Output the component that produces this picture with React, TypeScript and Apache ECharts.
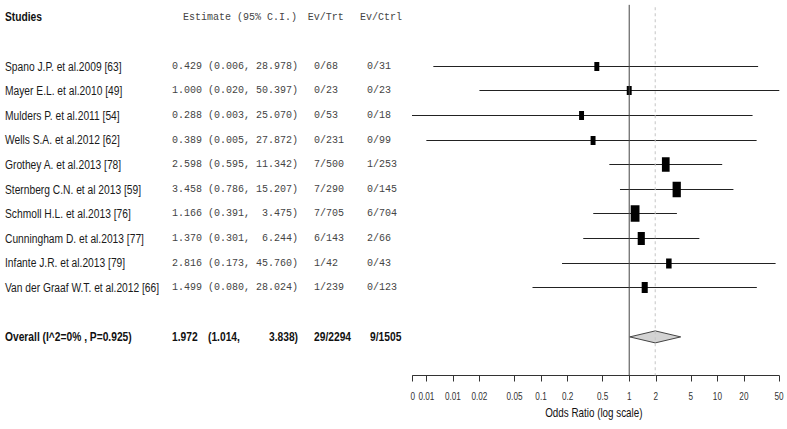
import React, { useEffect, useRef } from "react";
import * as echarts from "echarts";

// ---- data ----
const studies = [
  "Spano J.P. et al.2009 [63]",
  "Mayer E.L. et al.2010 [49]",
  "Mulders P. et al.2011 [54]",
  "Wells S.A. et al.2012 [62]",
  "Grothey A. et al.2013 [78]",
  "Sternberg C.N. et al 2013 [59]",
  "Schmoll H.L. et al.2013 [76]",
  "Cunningham D. et al.2013 [77]",
  "Infante J.R. et al.2013 [79]",
  "Van der Graaf W.T. et al.2012 [66]",
];
const estimates = [0.429, 1.0, 0.288, 0.389, 2.598, 3.458, 1.166, 1.37, 2.816, 1.499];
const lowerCI = [0.006, 0.02, 0.003, 0.005, 0.595, 0.786, 0.391, 0.301, 0.173, 0.08];
const upperCI = [28.978, 50.397, 25.07, 27.872, 11.342, 15.207, 3.475, 6.244, 45.76, 28.024];
const evTrt = ["0/68", "0/23", "0/53", "0/231", "7/500", "7/290", "7/705", "6/143", "1/42", "1/239"];
const evCtrl = ["0/31", "0/23", "0/18", "0/99", "1/253", "0/145", "6/704", "2/66", "0/43", "0/123"];
const weights = [5.8, 5.8, 5.8, 5.8, 14.1, 16.2, 18.4, 12.1, 7.2, 8.7];

const overallLabel = "Overall (I^2=0% , P=0.925)";
const overallEst = 1.972;
const overallLow = 1.014;
const overallHigh = 3.838;
const overallTrt = "29/2294";
const overallCtrl = "9/1505";

const headerStudies = "Studies";
const headerEstimate = "Estimate (95% C.I.)";
const headerTrt = "Ev/Trt";
const headerCtrl = "Ev/Ctrl";

const axisMinValue = 0.0035;
const axisMaxValue = 50;
const tickValues = [0.0035, 0.005, 0.01, 0.02, 0.05, 0.1, 0.2, 0.5, 1, 2, 5, 10, 20, 50];
const tickLabels = ["0", "0.01", "0.01", "0.02", "0.05", "0.1", "0.2", "0.5", "1", "2", "5", "10", "20", "50"];
const axisName = "Odds Ratio (log scale)";

// ---- layout ----
const W = 787;
const H = 429;
const GRID_TOP = 4.8;
const AXIS_Y = 375.5;
const ROW_PITCH = 24.6;
const Y_MIN = -0.5;
const Y_MAX = Y_MIN + (AXIS_Y - GRID_TOP) / ROW_PITCH;
const PLOT_LEFT = 412.7;
const PLOT_RIGHT = 779;
const NARROW_SCALE = 0.82;

const SANS = "'Liberation Sans', Arial, sans-serif";
const MONO = "'Liberation Mono', 'Courier New', monospace";

const lg = (v: number) => Math.log10(v);
const f3 = (v: number) => v.toFixed(3);
const NB = "\u00A0";
const padL = (s: string, n: number) => {
  let r = s;
  while (r.length < n) r = NB + r;
  return r;
};

type Item = { x: number; r: number; t: string; dx?: number; dy?: number };
type Font = { family: string; size: number; weight?: string; color: string; scaleX?: number };

function textLayer(axisIdx: number, items: Item[], font: Font, align: string = "left") {
  return {
    type: "custom",
    xAxisIndex: axisIdx,
    yAxisIndex: axisIdx,
    clip: false,
    silent: true,
    encode: { x: 0, y: 1 },
    data: items.map((it) => [it.x, it.r]),
    renderItem: (params: any, api: any) => {
      const it = items[params.dataIndex];
      const p = api.coord([api.value(0), api.value(1)]);
      return {
        type: "text",
        x: p[0] + (it.dx || 0),
        y: p[1] + (it.dy || 0),
        scaleX: font.scaleX || 1,
        style: {
          text: it.t,
          fontFamily: font.family,
          fontSize: font.size,
          fontWeight: font.weight || "normal",
          fill: font.color,
          align,
          verticalAlign: "middle",
        },
      };
    },
  };
}

export default function App() {
  const ref = useRef<HTMLDivElement>(null);

  useEffect(() => {
    if (!ref.current) return;
    const chart = echarts.init(ref.current, undefined, { renderer: "svg" });

    const studyRows = studies.map((_, i) => i + 2);
    const overallRow = 13;

    const studyData = studies.map((_, i) => [
      lg(estimates[i]),
      lg(lowerCI[i]),
      lg(upperCI[i]),
      studyRows[i],
      weights[i],
    ]);

    const crisp = (v: number) => Math.round(v - 0.5) + 0.5;

    const nameFont: Font = { family: SANS, size: 12.5, color: "#1a1a1a", scaleX: NARROW_SCALE };
    const boldFont: Font = { family: SANS, size: 12.5, weight: "bold", color: "#111", scaleX: NARROW_SCALE };
    const monoFont: Font = { family: MONO, size: 10, color: "#444" };
    const tickFont: Font = { family: SANS, size: 10, color: "#333", scaleX: NARROW_SCALE };
    const axisNameFont: Font = { family: SANS, size: 12, color: "#111", scaleX: NARROW_SCALE };

    const option: any = {
      animation: false,
      backgroundColor: "#fff",
      grid: [
        {
          left: PLOT_LEFT,
          width: PLOT_RIGHT - PLOT_LEFT,
          top: GRID_TOP,
          height: AXIS_Y - GRID_TOP,
          outerBoundsMode: "none",
          containLabel: false,
        },
        {
          left: 0,
          width: W,
          top: GRID_TOP,
          height: AXIS_Y - GRID_TOP,
          outerBoundsMode: "none",
          containLabel: false,
        },
      ],
      xAxis: [
        {
          type: "value",
          gridIndex: 0,
          position: "bottom",
          min: lg(axisMinValue),
          max: lg(axisMaxValue),
          splitLine: { show: false },
          axisLine: { show: true, onZero: false, lineStyle: { color: "#333", width: 1 } },
          axisTick: {
            show: true,
            length: 6,
            inside: false,
            customValues: tickValues.map(lg),
            lineStyle: { color: "#333" },
          },
          axisLabel: { show: false },
        },
        {
          type: "value",
          gridIndex: 1,
          min: 0,
          max: W,
          show: false,
        },
      ],
      yAxis: [
        { type: "value", gridIndex: 0, inverse: true, min: Y_MIN, max: Y_MAX, show: false },
        { type: "value", gridIndex: 1, inverse: true, min: Y_MIN, max: Y_MAX, show: false },
      ],
      series: [
        {
          type: "line",
          xAxisIndex: 0,
          yAxisIndex: 0,
          silent: true,
          symbol: "none",
          data: [
            [0, Y_MIN],
            [0, Y_MAX],
          ],
          lineStyle: { color: "#444", width: 1 },
        },
        {
          type: "line",
          xAxisIndex: 0,
          yAxisIndex: 0,
          silent: true,
          symbol: "none",
          data: [
            [lg(overallEst), Y_MIN + 0.1],
            [lg(overallEst), Y_MAX],
          ],
          lineStyle: { color: "#c4c4c4", width: 1, type: [3, 3] },
        },
        {
          type: "custom",
          xAxisIndex: 0,
          yAxisIndex: 0,
          clip: true,
          silent: true,
          encode: { x: [0, 1, 2], y: 3 },
          data: studyData,
          renderItem: (params: any, api: any) => {
            const row = api.value(3);
            const c = api.coord([api.value(0), row]);
            const l = api.coord([api.value(1), row]);
            const r = api.coord([api.value(2), row]);
            const y = crisp(c[1]);
            const h = 3.8 * Math.sqrt(api.value(4));
            const w = 0.54 * h;
            return {
              type: "group",
              children: [
                {
                  type: "line",
                  shape: { x1: l[0], y1: y, x2: r[0], y2: y },
                  style: { stroke: "#222", lineWidth: 1 },
                },
                {
                  type: "rect",
                  shape: { x: c[0] - w / 2, y: y - h / 2, width: w, height: h },
                  style: { fill: "#000" },
                },
              ],
            };
          },
        },
        {
          type: "custom",
          xAxisIndex: 0,
          yAxisIndex: 0,
          clip: true,
          silent: true,
          encode: { x: [0, 1, 2], y: 3 },
          data: [[lg(overallLow), lg(overallEst), lg(overallHigh), overallRow]],
          renderItem: (params: any, api: any) => {
            const row = api.value(3);
            const l = api.coord([api.value(0), row]);
            const m = api.coord([api.value(1), row]);
            const r = api.coord([api.value(2), row]);
            const hh = 6;
            return {
              type: "polygon",
              shape: {
                points: [
                  [l[0], l[1]],
                  [m[0], m[1] - hh],
                  [r[0], r[1]],
                  [m[0], m[1] + hh],
                ],
              },
              style: { fill: "#d3d3d3", stroke: "#444", lineWidth: 1 },
            };
          },
        },
        // axis tick labels and name (drawn through the x axis scale)
        textLayer(
          0,
          tickValues.map((v, i) => ({ x: lg(v), r: Y_MAX, t: tickLabels[i], dy: 21 })),
          tickFont,
          "center"
        ),
        textLayer(
          0,
          [{ x: (lg(axisMinValue) + lg(axisMaxValue)) / 2, r: Y_MAX, t: axisName, dx: -2, dy: 37 }],
          axisNameFont,
          "center"
        ),
        // header
        textLayer(1, [{ x: 5, r: 0, t: headerStudies }], boldFont),
        textLayer(
          1,
          [
            { x: 183, r: 0, t: headerEstimate },
            { x: 307.7, r: 0, t: headerTrt },
            { x: 360, r: 0, t: headerCtrl },
          ],
          monoFont
        ),
        // study names
        textLayer(1, studies.map((s, i) => ({ x: 5, r: studyRows[i], t: s })), nameFont),
        // estimates and events
        textLayer(
          1,
          studies.map((_, i) => ({
            x: 172,
            r: studyRows[i],
            t: `${f3(estimates[i])} (${f3(lowerCI[i])}, ${padL(f3(upperCI[i]), 6)})`,
          })),
          monoFont
        ),
        textLayer(1, studies.map((_, i) => ({ x: 314, r: studyRows[i], t: evTrt[i] })), monoFont),
        textLayer(1, studies.map((_, i) => ({ x: 367, r: studyRows[i], t: evCtrl[i] })), monoFont),
        // overall
        textLayer(
          1,
          [
            { x: 5, r: overallRow, t: overallLabel },
            { x: 172, r: overallRow, t: f3(overallEst) },
            { x: 208, r: overallRow, t: `(${f3(overallLow)},` },
            { x: 314, r: overallRow, t: overallTrt },
            { x: 370, r: overallRow, t: overallCtrl },
          ],
          boldFont
        ),
        textLayer(1, [{ x: 298, r: overallRow, t: `${f3(overallHigh)})` }], boldFont, "right"),
      ],
    };

    chart.setOption(option);
    return () => chart.dispose();
  }, []);

  return (
    <div
      ref={ref}
      style={{ position: "absolute", left: 0, top: 0, width: W, height: H, background: "#fff" }}
    />
  );
}
